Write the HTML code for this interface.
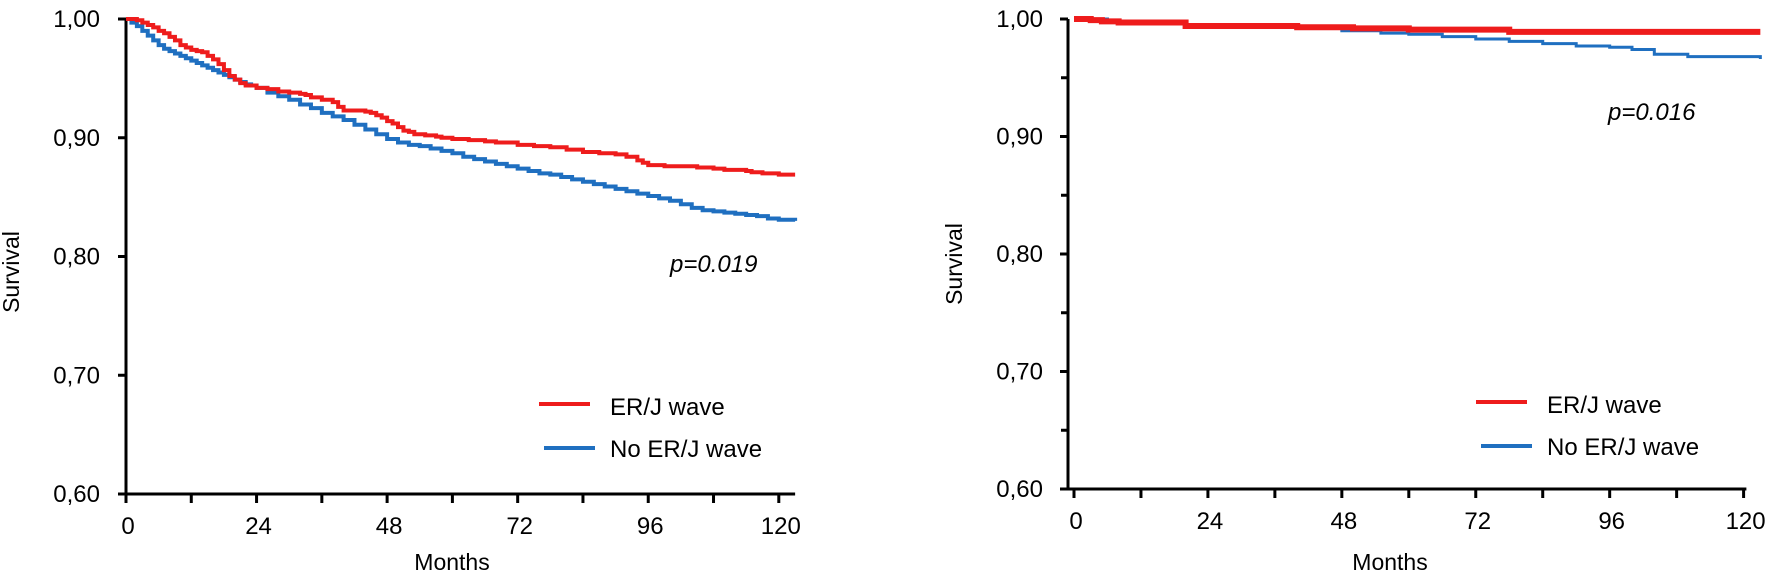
<!DOCTYPE html>
<html><head><meta charset="utf-8"><style>
html,body{margin:0;padding:0;background:#fff;}
svg{display:block;font-family:"Liberation Sans",Arial,sans-serif;}
</style></head><body>
<svg id="chart" width="1772" height="580" viewBox="0 0 1772 580"></svg>
<script>
// Left panel data
const leftRedMonths = [0,2,3,4,5,6,7,8,9,10,11,12,13,14,15,16,17,18,19,20,21,22,24,26,28,30,32,33,34,36,38,39,40,42,44,45,46,47,48,49,50,51,52,53,55,57,58,60,63,66,68,72,75,78,81,84,87,90,92,94,95,96,99,102,105,108,110,112,114,115,117,120,123];
const leftRedSurv   = [1.0,0.999,0.997,0.995,0.993,0.99,0.988,0.985,0.982,0.978,0.976,0.974,0.973,0.972,0.969,0.966,0.962,0.957,0.952,0.949,0.946,0.944,0.942,0.941,0.939,0.938,0.937,0.936,0.934,0.932,0.930,0.926,0.923,0.923,0.922,0.921,0.919,0.917,0.914,0.912,0.909,0.906,0.905,0.903,0.902,0.901,0.900,0.899,0.898,0.897,0.896,0.894,0.893,0.892,0.890,0.888,0.887,0.886,0.884,0.881,0.879,0.877,0.876,0.876,0.875,0.874,0.873,0.873,0.872,0.871,0.870,0.869,0.869];
const leftBlueMonths= [0,1,2,3,4,5,6,7,8,9,10,11,12,13,14,15,16,17,18,19,20,21,22,23,24,26,28,30,32,34,36,38,40,42,44,46,48,50,52,54,56,58,60,62,64,66,68,70,72,74,76,78,80,82,84,86,88,90,92,94,96,98,100,102,104,106,108,110,112,114,116,118,120,123];
const leftBlueSurv  = [1.0,0.997,0.994,0.99,0.986,0.982,0.978,0.975,0.973,0.971,0.969,0.967,0.965,0.963,0.961,0.959,0.957,0.955,0.953,0.951,0.949,0.947,0.945,0.944,0.942,0.938,0.935,0.932,0.928,0.925,0.921,0.918,0.915,0.911,0.907,0.903,0.899,0.896,0.894,0.893,0.891,0.889,0.887,0.884,0.882,0.880,0.878,0.876,0.874,0.872,0.870,0.869,0.867,0.865,0.863,0.861,0.859,0.857,0.855,0.853,0.851,0.849,0.847,0.844,0.841,0.839,0.838,0.837,0.836,0.835,0.834,0.832,0.831,0.830];
// Right panel data
const rightRedMonths = [0,3,5,8,18,20,40,50,60,78,123];
const rightRedSurv   = [1.0,0.999,0.998,0.997,0.997,0.994,0.993,0.992,0.991,0.989,0.989];
const rightBlueMonths= [0,6,12,20,30,40,48,55,60,66,72,78,84,90,96,100,104,110,118,123];
const rightBlueSurv  = [1.0,0.998,0.997,0.995,0.994,0.992,0.99,0.988,0.987,0.985,0.983,0.981,0.979,0.977,0.976,0.974,0.97,0.968,0.968,0.966];
const xTicks = [0,24,48,72,96,120];
const yTicks = [1.0,0.9,0.8,0.7,0.6];
const yTickLabels = ["1,00","0,90","0,80","0,70","0,60"];

const NS="http://www.w3.org/2000/svg";
const svg=document.getElementById('chart');
function mk(tag,attrs,parent){const e=document.createElementNS(NS,tag);for(const k in attrs)e.setAttribute(k,attrs[k]);(parent||svg).appendChild(e);return e;}

function panel(cfg){
  const g=mk('g',{});
  
  
  const X=m=>cfg.x0+m*cfg.pxm;
  const Y=v=>cfg.yTop+(1-v)/0.4*(cfg.yBot-cfg.yTop);
  const ya=mk('line',{x1:cfg.x0-cfg.axOff,y1:Y(1),x2:cfg.x0-cfg.axOff,y2:cfg.yBot,stroke:'#000','stroke-width':3},g);
  
  
  const xa=mk('line',{x1:cfg.x0-cfg.axOff-8,y1:cfg.yBot,x2:X(cfg.xEnd),y2:cfg.yBot,stroke:'#000','stroke-width':3},g);
  
  
  yTicks.forEach((v,i)=>{
    mk('line',{x1:cfg.x0-cfg.axOff-8,y1:Y(v),x2:cfg.x0-cfg.axOff,y2:Y(v),stroke:'#000','stroke-width':3},g);
    const t=mk('text',{x:cfg.labelRight,y:Y(v)+8,'text-anchor':'end','font-size':24,fill:'#000'},g);
    t.textContent=yTickLabels[i];
    
    
    if(cfg.minorY && i<yTicks.length-1){
      const mv=v-0.05;
      mk('line',{x1:cfg.x0-cfg.axOff-7,y1:Y(mv),x2:cfg.x0-cfg.axOff,y2:Y(mv),stroke:'#000','stroke-width':3},g);
    }
  });
  for(let m=0;m<=120;m+=12){
    mk('line',{x1:X(m),y1:cfg.yBot,x2:X(m),y2:cfg.yBot+9,stroke:'#000','stroke-width':3},g);
  }
  xTicks.forEach(m=>{
    const t=mk('text',{x:X(m)+2,y:cfg.yBot+40,'text-anchor':'middle','font-size':24,fill:'#000'},g);
    t.textContent=String(m);
    
    
  });
  const yt=mk('text',{x:0,y:0,'text-anchor':'middle','font-size':23,fill:'#000',transform:`translate(${cfg.yTitleX},${cfg.yTitleY}) rotate(-90)`},g);
  yt.textContent='Survival';
  
  
  const xt=mk('text',{x:cfg.xTitleX,y:570,'text-anchor':'middle','font-size':23,fill:'#000'},g);
  xt.textContent='Months';
  
  
  function step(ms,vs){let d=`M${X(ms[0])},${Y(vs[0])}`;for(let i=1;i<ms.length;i++){d+=`H${X(ms[i])}V${Y(vs[i])}`;}return d;}
  const blue=mk('path',{d:step(cfg.blueM,cfg.blueS),fill:'none',stroke:'#1f6fc0','stroke-width':cfg.blueW},g);
  
  
  const red=mk('path',{d:step(cfg.redM,cfg.redS),fill:'none',stroke:'#ee1c1c','stroke-width':cfg.redW},g);
  
  
  const p=mk('text',{x:cfg.pX,y:cfg.pY,'font-size':24,'font-style':'italic',fill:'#000'},g);
  p.textContent=cfg.pText;
  
  
  const lg=mk('g',{},g);
  
  
  const l1=mk('line',{x1:cfg.legX,y1:cfg.legY,x2:cfg.legX+51,y2:cfg.legY,stroke:'#ee1c1c','stroke-width':4},lg);
  
  
  const t1=mk('text',{x:cfg.legX+71,y:cfg.legY+11,'font-size':24,fill:'#000'},lg);
  t1.textContent='ER/J wave';
  const l2=mk('line',{x1:cfg.legX+5,y1:cfg.legY+44,x2:cfg.legX+56,y2:cfg.legY+44,stroke:'#1f6fc0','stroke-width':4},lg);
  
  
  const t2=mk('text',{x:cfg.legX+71,y:cfg.legY+53,'font-size':24,fill:'#000'},lg);
  t2.textContent='No ER/J wave';
}

panel({name:'left-panel',x0:126,pxm:5.44,axOff:0,yTop:19,yBot:494,xEnd:123,labelRight:100,minorY:false,
  yTitleX:19,yTitleY:272,xTitleX:452,redM:leftRedMonths,redS:leftRedSurv,blueM:leftBlueMonths,blueS:leftBlueSurv,
  redW:4,blueW:4,pX:670,pY:272,pText:'p=0.019',legX:539,legY:404});
panel({name:'right-panel',x0:1074,pxm:5.58,axOff:6,yTop:19,yBot:489,xEnd:120.5,labelRight:1043,minorY:true,
  yTitleX:962,yTitleY:264,xTitleX:1390,redM:rightRedMonths,redS:rightRedSurv,blueM:rightBlueMonths,blueS:rightBlueSurv,
  redW:6,blueW:3,pX:1608,pY:120,pText:'p=0.016',legX:1476,legY:402});
</script>
</body></html>
